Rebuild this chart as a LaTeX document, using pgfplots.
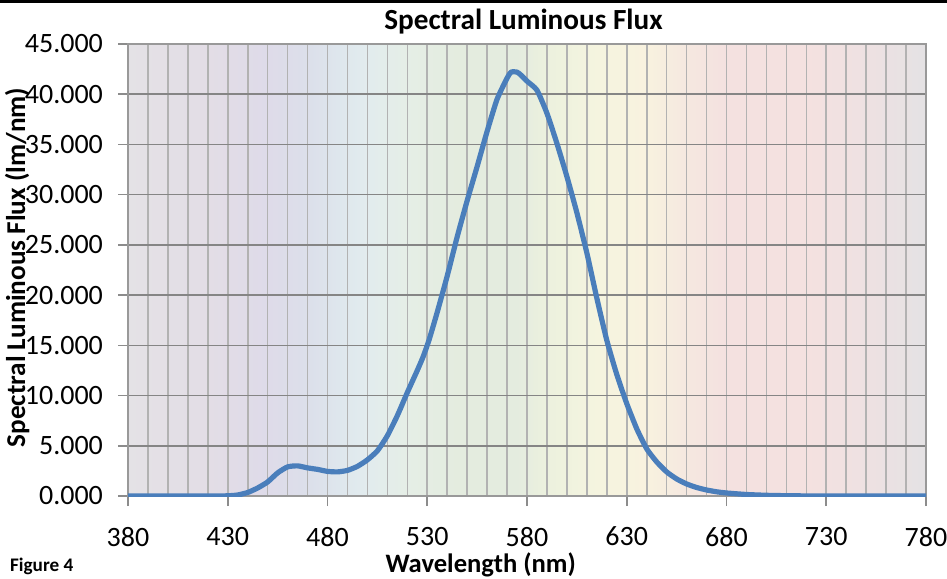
\documentclass[border=0pt]{standalone}
\usepackage{fontspec}
\setmainfont{Carlito}
\usepackage{pgfplots}
\pgfplotsset{compat=1.18}

% faint spectrum behind the plot area
\definecolor{s380}{HTML}{E4E2E6}
\definecolor{s420}{HTML}{E3DDE6}
\definecolor{s450}{HTML}{DEDBE9}
\definecolor{s470}{HTML}{DCDFEA}
\definecolor{s485}{HTML}{DEE6ED}
\definecolor{s500}{HTML}{E2ECEE}
\definecolor{s520}{HTML}{E5EEE6}
\definecolor{s545}{HTML}{E4ECDF}
\definecolor{s575}{HTML}{E4ECDF}
\definecolor{s590}{HTML}{ECF1DE}
\definecolor{s615}{HTML}{F5F4DF}
\definecolor{s640}{HTML}{F8F2DF}
\definecolor{s660}{HTML}{F5E8E0}
\definecolor{s680}{HTML}{F4E1E0}
\definecolor{s720}{HTML}{F4E1E0}
\definecolor{s750}{HTML}{EEE1E2}
\definecolor{s780}{HTML}{E4E2E4}
\definecolor{fluxblue}{HTML}{4A7EBB}

\begin{document}
\begin{tikzpicture}
  \begin{axis}[
      set layers,
      at={(0,0)}, anchor=south west,
      scale only axis,
      width=399pt, height=226pt,
      xmin=380, xmax=780, ymin=0, ymax=45,
      xtick={380,430,...,780},
      minor xtick={390,400,...,770},
      ytick={0,5,...,45},
      xmajorgrids, xminorgrids, ymajorgrids,
      major grid style={line width=0.8pt},
      minor grid style={line width=0.8pt},
      x grid style={draw=black!30},
      y grid style={draw=black!48},
      axis line style={draw=black!40, line width=0.8pt},
      tick align=outside,
      major tick length=5pt,
      minor tick length=0pt,
      tick style={draw=black!45, line width=0.8pt},
      xtick pos=lower, ytick pos=left,
      tick label style={font=\fontsize{14}{16}\selectfont},
      /pgf/number format/assume math mode=true,
      yticklabel style={/pgf/number format/.cd, fixed, fixed zerofill, precision=3, 1000 sep={}},
      xticklabel style={/pgf/number format/.cd, 1000 sep={}},
      xticklabel shift=7pt,
      yticklabel shift=4pt,
      xlabel={\bfseries Wavelength (nm)},
      xlabel style={font=\fontsize{13.3}{15}\selectfont, at={(axis description cs:0.442,-0.153)}, anchor=center},
      ylabel={\bfseries Spectral Luminous Flux (lm/nm)},
      ylabel style={font=\fontsize{13.6}{15}\selectfont, at={(axis description cs:-0.139,0.5055)}, anchor=center},
  ]
  \begin{pgfonlayer}{axis background}
    \shade[left color=s380, right color=s420] (axis cs:380,0) rectangle (axis cs:420,45);
    \shade[left color=s420, right color=s450] (axis cs:420,0) rectangle (axis cs:450,45);
    \shade[left color=s450, right color=s470] (axis cs:450,0) rectangle (axis cs:470,45);
    \shade[left color=s470, right color=s485] (axis cs:470,0) rectangle (axis cs:485,45);
    \shade[left color=s485, right color=s500] (axis cs:485,0) rectangle (axis cs:500,45);
    \shade[left color=s500, right color=s520] (axis cs:500,0) rectangle (axis cs:520,45);
    \shade[left color=s520, right color=s545] (axis cs:520,0) rectangle (axis cs:545,45);
    \shade[left color=s545, right color=s575] (axis cs:545,0) rectangle (axis cs:575,45);
    \shade[left color=s575, right color=s590] (axis cs:575,0) rectangle (axis cs:590,45);
    \shade[left color=s590, right color=s615] (axis cs:590,0) rectangle (axis cs:615,45);
    \shade[left color=s615, right color=s640] (axis cs:615,0) rectangle (axis cs:640,45);
    \shade[left color=s640, right color=s660] (axis cs:640,0) rectangle (axis cs:660,45);
    \shade[left color=s660, right color=s680] (axis cs:660,0) rectangle (axis cs:680,45);
    \shade[left color=s680, right color=s720] (axis cs:680,0) rectangle (axis cs:720,45);
    \shade[left color=s720, right color=s750] (axis cs:720,0) rectangle (axis cs:750,45);
    \shade[left color=s750, right color=s780] (axis cs:750,0) rectangle (axis cs:780,45);
  \end{pgfonlayer}

  \addplot[fluxblue, line width=2.6pt, line join=round, line cap=round, smooth, tension=0.35] coordinates {
  (380,0) (390,0) (400,0) (410,0) (420,0) (425,0.01) (430,0.02) (435,0.1)
  (440,0.35) (445,0.8) (450,1.4) (455,2.3) (460,2.9) (465,3.0) (470,2.8)
  (475,2.65) (480,2.45) (485,2.4) (490,2.55) (495,2.95) (500,3.6) (505,4.5)
  (510,6.0) (515,8.0) (520,10.3) (525,12.5) (528,13.9) (531,15.6) (535,18.3)
  (540,21.9) (545,25.8) (550,29.4) (555,32.8) (560,36.3) (565,39.5) (570,41.6)
  (572,42.2) (575,42.2) (577,41.9) (580,41.3) (585,40.4) (590,38.1) (595,35.1)
  (600,31.8) (605,28.2) (610,24.2) (615,19.7) (620,15.5) (625,12.1) (630,9.2)
  (635,6.7) (640,4.7) (645,3.4) (650,2.4) (655,1.7) (660,1.2) (665,0.85)
  (670,0.6) (675,0.42) (680,0.3) (690,0.15) (700,0.07) (710,0.03) (720,0.01)
  (730,0) (740,0) (750,0) (760,0) (770,0) (780,0)
  };
  \end{axis}
  \node[font=\fontsize{14.6}{16}\selectfont\bfseries] at (197.75pt,237pt) {Spectral Luminous Flux};
  \node[anchor=west, font=\fontsize{9.6}{11}\selectfont\bfseries] at (-62.5pt,-35pt) {Figure 4};
  \fill[black] (-64pt,246.5pt) rectangle (409.5pt,248pt);
  \pgfresetboundingbox
  \path[use as bounding box] (-64pt,-41pt) rectangle (409.5pt,248pt);
\end{tikzpicture}
\end{document}
